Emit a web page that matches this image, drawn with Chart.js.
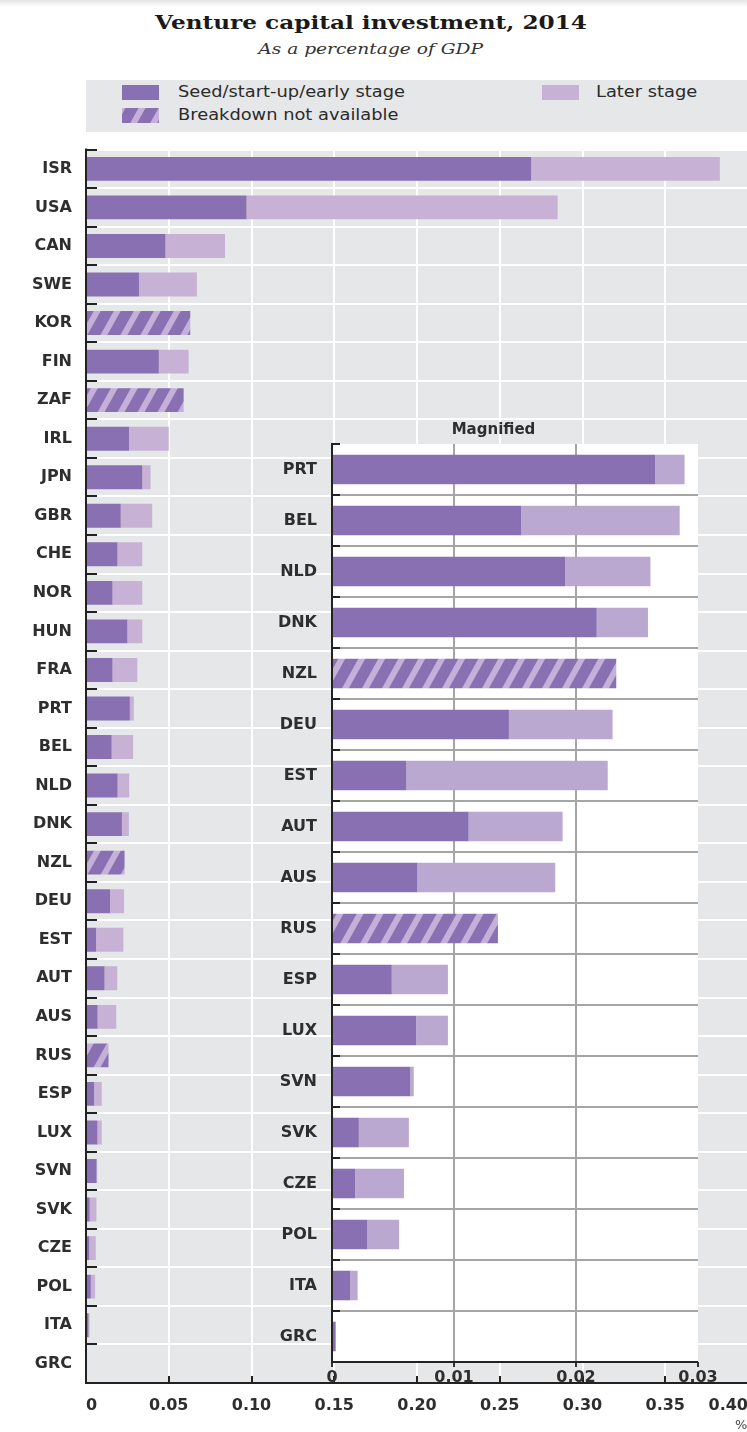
<!DOCTYPE html>
<html>
<head>
<meta charset="utf-8">
<script src="https://cdn.jsdelivr.net/npm/chart.js@4.4.1/dist/chart.umd.min.js"></script>
<style>
  body { margin: 0; width: 747px; height: 1432px; position: relative; overflow: hidden; background: #fff; font-family: 'DejaVu Sans', sans-serif; color: #2b2b2b; }
  .band { position: absolute; left: 0; top: 0; width: 747px; height: 7px; background: linear-gradient(#e4e4e4, #fff); }
  .head { position: absolute; left: 0; width: 742px; text-align: center; }
  .head span { display: inline-block; transform-origin: center; }
  #title { top: 11px; }
  #title span { font: bold 19px 'DejaVu Serif', serif; transform: scaleX(1.22); color: #1a1a1a; }
  #subtitle { top: 39px; }
  #subtitle span { font: italic 15px 'DejaVu Serif', serif; transform: scaleX(1.24); color: #333; }
  #legend { position: absolute; left: 86px; top: 80px; width: 661px; height: 52px; background: #e6e7e8; }
  .item { position: absolute; height: 16px; }
  .sw { position: absolute; left: 0; top: 0; width: 37px; height: 15px; }
  .lab { position: absolute; left: 56px; top: -2px; white-space: nowrap; font-size: 15.5px; transform: scaleX(1.15); transform-origin: left center; color: #2b2b2b; }
  #mainBox { position: absolute; left: 0; top: 126px; width: 761px; height: 1306px; }
  #insetBox { position: absolute; left: 240px; top: 410px; width: 507px; height: 985px; }
  #pct { position: absolute; left: 735px; top: 1417px; font-size: 13px; color: #444; }
</style>
</head>
<body>
<div class="band"></div>
<div id="title" class="head"><span>Venture capital investment, 2014</span></div>
<div id="subtitle" class="head"><span>As a percentage of GDP</span></div>
<div id="legend">
  <div class="item" style="left:36px;top:5px"><div class="sw" style="background:#8870b2"></div><div class="lab">Seed/start-up/early stage</div></div>
  <div class="item" style="left:36px;top:28px"><div class="sw" id="hatchSw"></div><div class="lab">Breakdown not available</div></div>
  <div class="item" style="left:456px;top:5px"><div class="sw" style="background:#c7b2d6"></div><div class="lab" style="left:54px">Later stage</div></div>
</div>
<div id="mainBox"><canvas id="main"></canvas></div>
<div id="insetBox"><canvas id="inset"></canvas></div>
<div id="pct">%</div>
<script>
// venture capital as % of GDP, 2014
const countries = ['ISR', 'USA', 'CAN', 'SWE', 'KOR', 'FIN', 'ZAF', 'IRL', 'JPN', 'GBR', 'CHE', 'NOR', 'HUN', 'FRA',
  'PRT', 'BEL', 'NLD', 'DNK', 'NZL', 'DEU', 'EST', 'AUT', 'AUS', 'RUS', 'ESP', 'LUX', 'SVN', 'SVK', 'CZE', 'POL', 'ITA', 'GRC'];
const early = [0.269, 0.097, 0.048, 0.032, null, 0.044, null, 0.026, 0.034, 0.021, 0.019, 0.016, 0.025, 0.016,
  0.0265, 0.0155, 0.0191, 0.0217, null, 0.0145, 0.0061, 0.0112, 0.0070, null, 0.0049, 0.0069, 0.0064, 0.0022, 0.0019, 0.0029, 0.0015, 0.0003];
const later = [0.114, 0.188, 0.036, 0.035, null, 0.018, null, 0.024, 0.005, 0.019, 0.015, 0.018, 0.009, 0.015,
  0.0024, 0.0130, 0.0070, 0.0042, null, 0.0085, 0.0165, 0.0077, 0.0113, null, 0.0046, 0.0026, 0.0003, 0.0041, 0.0040, 0.0026, 0.0006, 0];
const notAvailable = [null, null, null, null, 0.063, null, 0.059, null, null, null, null, null, null, null,
  null, null, null, null, 0.0233, null, null, null, null, 0.0136, null, null, null, null, null, null, null, null];
const mainTicks = [0, 0.05, 0.10, 0.15, 0.20, 0.25, 0.30, 0.35, 0.40];
const insetTicks = [0, 0.01, 0.02, 0.03];
const insetFrom = countries.indexOf('PRT');

const DARK = '#8870b2';
const LIGHT = '#c7b2d6';
const LIGHT_INSET = '#bba8d0';
const FONT = "'DejaVu Sans', sans-serif";
const TXT = '#2e2e2e';

function makeHatch() {
  const c = document.createElement('canvas');
  c.width = 20; c.height = 36;
  const g = c.getContext('2d');
  g.fillStyle = DARK;
  g.fillRect(0, 0, 20, 36);
  g.strokeStyle = '#c4b0d8';
  g.lineWidth = 6;
  for (const dx of [-20, 0, 20]) {
    g.beginPath();
    g.moveTo(dx - 10, 54);
    g.lineTo(dx + 30, -18);
    g.stroke();
  }
  return c;
}
const hatchCanvas = makeHatch();
const hatch = hatchCanvas.getContext('2d').createPattern(hatchCanvas, 'repeat');
document.getElementById('hatchSw').style.background = 'url(' + hatchCanvas.toDataURL() + ')';

const plotBg = {
  id: 'plotBg',
  beforeDraw(chart, args, opts) {
    const a = chart.chartArea;
    chart.ctx.save();
    chart.ctx.fillStyle = opts.color;
    chart.ctx.fillRect(a.left, a.top, a.right - a.left, a.bottom - a.top);
    chart.ctx.restore();
  }
};

// black axis lines with the little category ticks and (main chart) upward value ticks
const axisMarks = {
  id: 'axisMarks',
  afterDatasetsDraw(chart, args, opts) {
    const { ctx, chartArea: a, scales: { x, y } } = chart;
    const n = chart.data.labels.length;
    const step = y.getPixelForValue(1) - y.getPixelForValue(0);
    ctx.save();
    ctx.strokeStyle = '#222';
    ctx.lineWidth = 2;
    ctx.beginPath();
    for (let i = 0; i < n; i++) {
      const yy = Math.round(y.getPixelForValue(i) - step / 2);
      ctx.moveTo(a.left, yy);
      ctx.lineTo(a.left + opts.yTick, yy);
    }
    if (opts.xTick) {
      x.ticks.forEach(t => {
        if (t.value === 0) return;
        const xx = Math.round(x.getPixelForValue(t.value));
        ctx.moveTo(xx, a.bottom);
        ctx.lineTo(xx, a.bottom - opts.xTick);
      });
    }
    ctx.moveTo(a.left, a.top - 1);
    ctx.lineTo(a.left, a.bottom);
    ctx.lineTo(a.right, a.bottom);
    ctx.stroke();
    if (opts.caption) {
      ctx.fillStyle = TXT;
      ctx.font = 'bold 15px ' + FONT;
      ctx.textAlign = 'center';
      ctx.textBaseline = 'middle';
      ctx.fillText(opts.caption, chart.width / 2, a.top - 14);
    }
    ctx.restore();
  }
};

const fmt = v => v === 0 ? '0' : v.toFixed(2);

new Chart(document.getElementById('main'), {
  type: 'bar',
  data: {
    labels: countries,
    datasets: [
      { label: 'Seed/start-up/early stage', data: early, backgroundColor: DARK },
      { label: 'Later stage', data: later, backgroundColor: LIGHT },
      { label: 'Breakdown not available', data: notAvailable, backgroundColor: hatch }
    ]
  },
  options: {
    indexAxis: 'y',
    responsive: true,
    maintainAspectRatio: false,
    animation: false,
    layout: { padding: { top: 8, right: 0, bottom: 0, left: 0 }, autoPadding: false },
    datasets: { bar: { categoryPercentage: 1, barPercentage: 0.62, borderWidth: 0 } },
    plugins: {
      legend: { display: false },
      tooltip: { enabled: false },
      plotBg: { color: '#e6e7e8' },
      axisMarks: { yTick: 11, xTick: 7 }
    },
    scales: {
      x: {
        stacked: true, min: 0, max: 0.4,
        afterBuildTicks: s => { s.ticks = mainTicks.map(v => ({ value: v })); },
        afterFit: s => { s.height = 49; },
        ticks: { align: 'inner', padding: 13, color: TXT, font: { family: FONT, size: 16, weight: 'bold' }, callback: fmt },
        grid: { color: '#fff', lineWidth: 2, drawTicks: false },
        border: { display: false }
      },
      y: {
        stacked: true,
        afterFit: s => { s.width = 86; },
        ticks: { padding: 14, color: TXT, font: { family: FONT, size: 16, weight: 'bold' } },
        grid: { color: '#fff', lineWidth: 2, drawTicks: false, offset: true },
        border: { display: false }
      }
    }
  },
  plugins: [plotBg, axisMarks]
});

const insetLabels = countries.slice(insetFrom);
const gridGray = '#a5a5a5';

new Chart(document.getElementById('inset'), {
  type: 'bar',
  data: {
    labels: insetLabels,
    datasets: [
      { label: 'Seed/start-up/early stage', data: early.slice(insetFrom), backgroundColor: DARK },
      { label: 'Later stage', data: later.slice(insetFrom), backgroundColor: LIGHT_INSET },
      { label: 'Breakdown not available', data: notAvailable.slice(insetFrom), backgroundColor: hatch }
    ]
  },
  options: {
    indexAxis: 'y',
    responsive: true,
    maintainAspectRatio: false,
    animation: false,
    layout: { padding: { top: 34, right: 49, bottom: 0, left: 0 }, autoPadding: false },
    datasets: { bar: { categoryPercentage: 1, barPercentage: 0.58, borderWidth: 0 } },
    plugins: {
      legend: { display: false },
      tooltip: { enabled: false },
      plotBg: { color: '#ffffff' },
      axisMarks: { yTick: 8, xTick: 0, caption: 'Magnified' }
    },
    scales: {
      x: {
        stacked: true, min: 0, max: 0.03,
        afterBuildTicks: s => { s.ticks = insetTicks.map(v => ({ value: v })); },
        afterFit: s => { s.height = 33; },
        ticks: { padding: 1, color: TXT, font: { family: FONT, size: 16, weight: 'bold' }, callback: fmt },
        grid: {
          color: c => (c.tick && c.tick.value > 0 && c.tick.value < 0.03) ? gridGray : 'rgba(0,0,0,0)',
          lineWidth: 2, drawTicks: true, tickLength: 5, tickColor: '#333', tickWidth: 2
        },
        border: { display: false }
      },
      y: {
        stacked: true,
        afterFit: s => { s.width = 92; },
        ticks: { padding: 15, color: TXT, font: { family: FONT, size: 16, weight: 'bold' } },
        grid: {
          color: c => (c.index === 0 || c.index >= insetLabels.length) ? 'rgba(0,0,0,0)' : gridGray,
          lineWidth: 2, drawTicks: false, offset: true
        },
        border: { display: false }
      }
    }
  },
  plugins: [plotBg, axisMarks]
});
</script>
</body>
</html>
